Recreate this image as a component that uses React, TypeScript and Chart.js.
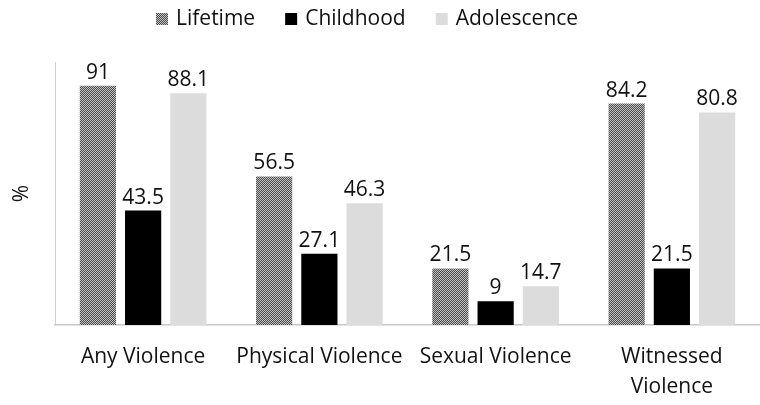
import React, { useEffect, useRef } from "react";
import { Chart, registerables } from "chart.js";

Chart.register(...registerables);

const categories: (string | string[])[] = [
  "Any Violence",
  "Physical Violence",
  "Sexual Violence",
  ["Witnessed", "Violence"],
];
const seriesNames = ["Lifetime", "Childhood", "Adolescence"];
const lifetime = [91, 56.5, 21.5, 84.2];
const childhood = [43.5, 27.1, 9, 21.5];
const adolescence = [88.1, 46.3, 14.7, 80.8];

const FONT = "'Open Sans', Lato, sans-serif";
const TEXT = "#111";

function checkerPattern(): CanvasPattern | string {
  const tile = document.createElement("canvas");
  tile.width = 2;
  tile.height = 2;
  const c = tile.getContext("2d");
  if (!c) return "#808080";
  c.fillStyle = "#4a4a4a";
  c.fillRect(0, 0, 2, 2);
  c.fillStyle = "#c4c4c4";
  c.fillRect(0, 0, 1, 1);
  c.fillRect(1, 1, 1, 1);
  const ctx = document.createElement("canvas").getContext("2d");
  const p = ctx ? ctx.createPattern(tile, "repeat") : null;
  return p || "#808080";
}

// Writes each bar's value just above it
const valueLabels = {
  id: "valueLabels",
  afterDatasetsDraw(chart: any) {
    const { ctx } = chart;
    ctx.save();
    ctx.font = `21px ${FONT}`;
    ctx.fillStyle = TEXT;
    ctx.textAlign = "center";
    ctx.textBaseline = "alphabetic";
    chart.data.datasets.forEach((ds: any, i: number) => {
      const meta = chart.getDatasetMeta(i);
      meta.data.forEach((bar: any, j: number) => {
        ctx.fillText(String(ds.data[j]), bar.x, bar.y - 7);
      });
    });
    ctx.restore();
  },
};

// Single-row legend above the plot
const topLegend = {
  id: "topLegend",
  afterDraw(chart: any) {
    const { ctx } = chart;
    const box = 12;
    const textGap = 8;
    const itemGap = 30;
    const y = 19;
    const centre = chart.width * 0.483;
    ctx.save();
    ctx.font = `21px ${FONT}`;
    ctx.textBaseline = "middle";
    ctx.textAlign = "left";
    const items = chart.data.datasets.map((ds: any) => ({
      label: ds.label as string,
      color: ds.backgroundColor,
      w: ctx.measureText(ds.label).width,
    }));
    const total =
      items.reduce((s: number, it: any) => s + box + textGap + it.w, 0) +
      itemGap * (items.length - 1);
    let x = centre - total / 2;
    items.forEach((it: any) => {
      ctx.fillStyle = it.color;
      ctx.fillRect(x, y - 6, box, box);
      x += box + textGap;
      ctx.fillStyle = TEXT;
      ctx.fillText(it.label, x, y);
      x += it.w + itemGap;
    });
    ctx.restore();
  },
};

export default function App() {
  const ref = useRef<HTMLCanvasElement>(null);

  useEffect(() => {
    if (!ref.current) return;
    const pattern = checkerPattern();
    const chart = new Chart(ref.current, {
      type: "bar",
      data: {
        labels: categories,
        datasets: [
          { label: seriesNames[0], data: lifetime, backgroundColor: pattern as any },
          { label: seriesNames[1], data: childhood, backgroundColor: "#000000" },
          { label: seriesNames[2], data: adolescence, backgroundColor: "#dcdcdc" },
        ],
      },
      options: {
        animation: false,
        responsive: false,
        layout: { padding: { top: 62, right: 0, left: 0, bottom: 0 } },
        datasets: {
          bar: { categoryPercentage: 0.77, barPercentage: 0.8 },
        },
        plugins: {
          tooltip: { enabled: false },
          legend: { display: false },
        },
        scales: {
          x: {
            grid: { display: false, drawTicks: false },
            border: { display: true, color: "#c8c8c8", width: 1.5 },
            ticks: {
              color: TEXT,
              padding: 17,
              maxRotation: 0,
              autoSkip: false,
              font: { family: FONT, size: 21, lineHeight: 1.43 },
            },
            afterFit(scale: any) {
              scale.height = 80;
            },
          },
          y: {
            min: 0,
            max: 100,
            grid: { display: false, drawTicks: false },
            border: { display: true, color: "#d0d0d0", width: 1 },
            ticks: { display: false },
            title: {
              display: true,
              text: "%",
              color: TEXT,
              padding: { top: 9, bottom: 4 },
              font: { family: FONT, size: 21 },
            },
            afterFit(scale: any) {
              scale.width = 55;
            },
          },
        },
      },
      plugins: [valueLabels, topLegend],
    });
    return () => chart.destroy();
  }, []);

  return (
    <div style={{ position: "fixed", left: 0, top: 0, width: 760, height: 405, background: "#fff" }}>
      <canvas ref={ref} width={760} height={405} />
    </div>
  );
}
